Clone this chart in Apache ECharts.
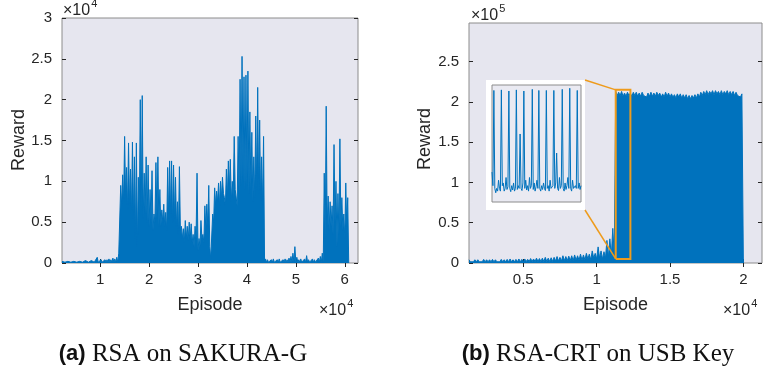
<!DOCTYPE html>
<html>
<head>
<meta charset="utf-8">
<script src="https://cdn.jsdelivr.net/npm/echarts@6/dist/echarts.min.js"></script>
<style>
  html, body { margin: 0; background: #fff; }
  #chart { width: 764px; height: 378px; }
</style>
</head>
<body>
<div id="chart"></div>
<script>
// (a) RSA on SAKURA-G : episodes in 1e4, reward in 1e4
// peaks sampled every 0.04e4 episodes from leftStart, floors sit halfway between peaks
const leftStart = 0.22, leftStep = 0.04;
const leftPeaks = [
  0.02,0.02,0.02,0.02,0.02,0.02,0.02,0.03,0.02,0.02,
  0.03,0.02,0.03,0.02,0.03,0.03,0.03,0.03,0.07,0.03,
  0.04,0.03,0.04,0.04,0.05,0.04,0.06,0.05,0.07,
  0.12,
  0.95,1.08,1.55,1.17,1.47,1.15,1.48,1.3,1.47,1.05,
  2.0,2.05,1.1,1.3,1.2,0.9,1.13,0.6,1.23,1.3,
  0.9,0.65,0.72,0.62,1.17,1.25,1.25,1.2,1.05,0.75,
  1.18,0.45,0.42,0.52,0.45,0.5,0.48,0.35,0.45,1.1,
  0.3,0.52,0.35,0.7,0.72,0.95,0.05,0.6,0.92,0.88,
  0.98,1.0,1.05,0.8,1.15,1.25,1.27,1.0,1.55,0.9,
  1.55,2.25,2.53,2.28,2.3,2.35,1.85,1.6,1.3,1.8,
  2.15,1.75,1.3,1.55,
  0.05,0.04,0.03,0.04,0.05,0.03,0.04,0.05,0.03,0.04,
  0.05,0.04,0.06,0.08,0.12,0.2,0.07,0.04,0.05,0.03,
  0.05,0.09,0.04,0.03,0.05,0.04,0.03,0.06,0.08,0.12,
  1.1,1.92,0.82,0.75,0.7,1.45,1.0,0.85,1.52,0.8,0.6,0.98,0.8
];
const leftFloors = [
  0.01,0.01,0.01,0.01,0.01,0.01,0.01,0.01,0.01,0.01,
  0.01,0.01,0.01,0.01,0.01,0.01,0.01,0.01,0.01,0.01,
  0.01,0.01,0.01,0.01,0.01,0.01,0.01,0.01,0.01,
  0.1,
  0.7,0.75,0.8,0.65,0.7,0.6,0.55,0.3,0.2,0.6,
  0.65,0.55,0.6,0.5,0.45,0.5,0.4,0.5,0.55,0.45,
  0.45,0.5,0.45,0.4,0.55,0.6,0.5,0.55,0.45,0.35,
  0.4,0.3,0.25,0.3,0.28,0.3,0.25,0.2,0.3,0.15,
  0.2,0.3,0.25,0.4,0.45,0.2,0.05,0.5,0.7,0.75,
  0.7,0.8,0.85,0.7,0.8,0.9,0.75,0.8,0.9,0.7,
  0.85,0.95,1.0,0.9,0.95,0.85,0.9,0.75,0.8,0.9,
  0.85,0.75,0.7,0.02,
  0.01,0.01,0.01,0.01,0.01,0.01,0.01,0.01,0.01,0.01,
  0.01,0.01,0.01,0.01,0.01,0.01,0.01,0.01,0.01,0.01,
  0.01,0.01,0.01,0.01,0.01,0.01,0.01,0.01,0.01,0.01,
  0.3,0.45,0.4,0.45,0.35,0.5,0.2,0.35,0.45,0.4,0.3,0.45,0
];

// (b) RSA-CRT on USB Key : episodes in 1e4, reward in 1e5
const rightStart = 0.13, rightStep = 0.02;
const rightPeaks = [
  0.04,0.035,0.04,0.04,0.035,0.045,0.04,0.04,0.045,0.04,0.035,0.045,0.04,0.045,0.05,0.04,0.045,0.05,0.045,
  0.05,0.045,0.055,0.05,0.06,0.055,0.06,0.07,0.06,0.065,
  0.07,0.08,0.07,0.09,0.08,0.085,0.09,0.1,0.09,0.11,
  0.1,0.12,0.11,0.15,0.12,0.2,0.15,0.14,0.28,0.3,0.43,
  2.13,2.12,2.13,2.11,2.12,2.11,2.12,2.12,2.11,2.12,
  2.1,2.11,2.12,2.11,2.12,2.11,2.1,2.12,2.11,2.1,
  2.09,2.1,2.1,2.09,2.09,2.08,2.08,2.09,2.1,2.12,
  2.13,2.14,2.13,2.14,2.14,2.13,2.14,2.13,2.14,2.13,
  2.13,2.12,2.1,2.1
];
const rightFloors = [
  0.015,0.015,0.015,0.015,0.015,0.015,0.015,0.015,0.015,0.015,0.015,0.015,0.015,0.015,0.015,0.015,0.015,0.015,0.015,
  0.02,0.02,0.02,0.02,0.02,0.02,0.02,0.02,0.02,0.02,
  0.025,0.025,0.025,0.03,0.03,0.03,0.03,0.035,0.035,0.035,
  0.04,0.05,0.04,0.06,0.05,0.06,0.05,0.06,0.07,0.09,0.1,
  2.08,2.08,2.07,2.07,2.08,2.07,2.08,2.07,2.07,2.08,
  2.06,2.07,2.07,2.07,2.08,2.06,2.06,2.07,2.06,2.06,
  2.05,2.06,2.05,2.05,2.04,2.04,2.05,2.05,2.06,2.08,
  2.09,2.09,2.1,2.09,2.1,2.09,2.09,2.1,2.09,2.09,
  2.08,2.08,2.06,0
];

// zoomed window shown in the inset (episodes 1e4, reward 1e5)
const zoomX = [1.13, 1.23];
const zoomY = [0.05, 2.15];
const insetY = [0.05, 2.2];
const insetValues = [
  0.6,0.35,2.1,0.3,0.22,0.3,0.25,0.45,
  0.3,0.25,2.11,0.35,0.4,0.25,0.3,0.5,
  0.28,0.33,2.09,0.3,0.24,0.35,0.27,0.4,
  0.25,0.3,2.11,0.28,0.35,0.3,1.3,0.3,
  0.26,0.4,2.09,0.3,0.45,0.27,0.35,0.25,
  0.5,0.3,0.35,2.12,0.28,0.4,0.25,0.33,
  0.45,0.3,2.1,0.3,0.25,0.35,0.28,0.4,
  0.3,0.26,2.1,0.3,0.35,0.25,0.45,0.3,
  0.28,0.35,2.1,0.3,0.4,0.95,0.3,0.26,
  0.5,0.3,0.35,2.12,0.3,0.25,0.4,0.28,
  0.35,0.5,0.3,2.14,0.3,0.25,0.45,0.3,
  0.28,0.35,0.3,2.1,0.3,0.4,0.28,0.35
];

// axis ranges and ticks
const leftXRange = [0.22, 6.27], leftYRange = [0, 3];
const rightXRange = [0.13, 2.127], rightYRange = [0, 2.98];
const leftXTicks = [1, 2, 3, 4, 5, 6];
const leftYTicks = [0, 0.5, 1, 1.5, 2, 2.5, 3];
const rightXTicks = [0.5, 1, 1.5, 2];
const rightYTicks = [0, 0.5, 1, 1.5, 2, 2.5];

const BLUE = '#0072BD';
const ORANGE = '#EE9B1C';
const INK = '#262626';
const BG = '#E6E6EF';
const BOX = '#8C8C8C';
const SANS = 'Liberation Sans, Arial, sans-serif';

const gridA = { left: 62, top: 18, width: 296, height: 245 };
const gridB = { left: 469, top: 23, width: 293, height: 240 };
const insetBox = { x: 486, y: 80, width: 99, height: 130 };
const insetGrid = { left: 492, top: 85, width: 89, height: 117 };

function zigzag(x0, step, peaks, floors) {
  const pts = [];
  peaks.forEach((p, i) => {
    pts.push([x0 + i * step, p]);
    pts.push([x0 + i * step + step / 2, floors[i]]);
  });
  return pts;
}

function axis(gridIndex, range, ticks, position, showLabels) {
  const isX = position === 'bottom' || position === 'top';
  return {
    type: 'value', gridIndex, position,
    min: range[0], max: range[1],
    splitLine: { show: false },
    axisLine: { show: false },
    axisTick: { show: true, inside: true, length: 4, customValues: ticks,
                lineStyle: { color: INK, width: 1 } },
    axisLabel: { show: showLabels, customValues: ticks, color: INK, fontSize: 15,
                 fontFamily: SANS, margin: isX ? 9 : 10 }
  };
}

const insetData = insetValues.map((v, i) =>
  [zoomX[0] + i * (zoomX[1] - zoomX[0]) / (insetValues.length - 1), v]);
const zoomRect = [
  [zoomX[0], zoomY[0]], [zoomX[1], zoomY[0]], [zoomX[1], zoomY[1]],
  [zoomX[0], zoomY[1]], [zoomX[0], zoomY[0]]
];

const chart = echarts.init(document.getElementById('chart'));
const gridStyle = { show: true, backgroundColor: BG, borderColor: BOX, borderWidth: 1 };

chart.setOption({
  animation: false,
  backgroundColor: '#fff',
  grid: [
    Object.assign({}, gridA, gridStyle),
    Object.assign({}, gridB, gridStyle),
    Object.assign({}, insetGrid, gridStyle, { backgroundColor: '#EAEAF2', z: 2 })
  ],
  xAxis: [
    axis(0, leftXRange, leftXTicks, 'bottom', true),
    axis(0, leftXRange, leftXTicks, 'top', false),
    axis(1, rightXRange, rightXTicks, 'bottom', true),
    axis(1, rightXRange, rightXTicks, 'top', false),
    { type: 'value', gridIndex: 2, min: zoomX[0], max: zoomX[1], show: false }
  ],
  yAxis: [
    axis(0, leftYRange, leftYTicks, 'left', true),
    axis(0, leftYRange, leftYTicks, 'right', false),
    axis(1, rightYRange, rightYTicks, 'left', true),
    axis(1, rightYRange, rightYTicks, 'right', false),
    { type: 'value', gridIndex: 2, min: insetY[0], max: insetY[1], show: false }
  ],
  series: [
    {
      type: 'line', xAxisIndex: 0, yAxisIndex: 0,
      data: zigzag(leftStart, leftStep, leftPeaks, leftFloors),
      showSymbol: false, sampling: 'none',
      lineStyle: { color: BLUE, width: 1 },
      areaStyle: { color: BLUE, opacity: 1 }
    },
    {
      type: 'line', xAxisIndex: 2, yAxisIndex: 2,
      data: zigzag(rightStart, rightStep, rightPeaks, rightFloors),
      showSymbol: false, sampling: 'none',
      lineStyle: { color: BLUE, width: 1 },
      areaStyle: { color: BLUE, opacity: 1 }
    },
    {
      type: 'line', xAxisIndex: 2, yAxisIndex: 2, z: 4,
      data: zoomRect, showSymbol: false,
      lineStyle: { color: ORANGE, width: 2, join: 'miter' }
    },
    {
      type: 'line', xAxisIndex: 4, yAxisIndex: 4, z: 5,
      data: insetData, showSymbol: false, sampling: 'none',
      lineStyle: { color: BLUE, width: 1 }
    }
  ]
});

function txt(text, x, y, size, extra, align) {
  return Object.assign({
    type: 'text', x, y, z: 10,
    style: { text, fill: INK, fontSize: size, fontFamily: SANS,
             align: align || 'center', verticalAlign: 'middle' }
  }, extra || {});
}

// measure "×10" so the exponent sits right after it
const ctx = document.createElement('canvas').getContext('2d');
ctx.font = '16px ' + SANS;
const baseWidth = ctx.measureText('×10').width;

function multiplier(x, y, exp) {
  return [
    txt('×10', x, y, 16, null, 'left'),
    txt(exp, x + baseWidth + 1, y - 7, 11, null, 'left')
  ];
}

function caption(label, title, x) {
  return {
    type: 'text', x, y: 354, z: 10,
    style: {
      text: '{b|' + label + '}{s| ' + title + '}',
      align: 'center', verticalAlign: 'middle',
      rich: {
        b: { fontFamily: 'Liberation Sans Narrow, Liberation Sans, sans-serif', fontWeight: 'bold',
             fontSize: 22, fill: '#111' },
        s: { fontFamily: 'Liberation Serif, serif', fontSize: 25, fill: '#111' }
      }
    }
  };
}

const tl = chart.convertToPixel({ seriesIndex: 1 }, [zoomX[0], zoomY[1]]);
const bl = chart.convertToPixel({ seriesIndex: 1 }, [zoomX[0], zoomY[0]]);

chart.setOption({
  graphic: {
    elements: [
      { type: 'rect', z: 1, shape: insetBox, style: { fill: '#fff' } },
      { type: 'line', z: 10,
        shape: { x1: insetBox.x + insetBox.width, y1: insetBox.y, x2: tl[0], y2: tl[1] },
        style: { stroke: ORANGE, lineWidth: 1.5 } },
      { type: 'line', z: 10,
        shape: { x1: insetBox.x + insetBox.width, y1: insetBox.y + insetBox.height, x2: bl[0], y2: bl[1] },
        style: { stroke: ORANGE, lineWidth: 1.5 } },
      txt('Reward', 19, 140, 18, { rotation: Math.PI / 2 }),
      txt('Reward', 425, 139, 18, { rotation: Math.PI / 2 }),
      txt('Episode', gridA.left + gridA.width / 2, 305, 18),
      txt('Episode', gridB.left + gridB.width / 2, 305, 18),
      ...multiplier(63, 11, '4'),
      ...multiplier(319, 311, '4'),
      ...multiplier(471, 16, '5'),
      ...multiplier(723, 311, '4'),
      caption('(a)', 'RSA on SAKURA-G', 183),
      caption('(b)', 'RSA-CRT on USB Key', 598)
    ]
  }
});
</script>
</body>
</html>
